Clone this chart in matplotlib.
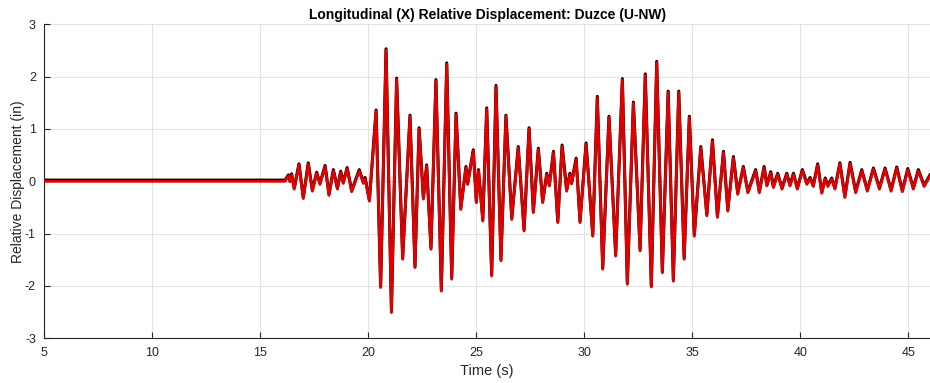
import numpy as np
import matplotlib
matplotlib.use("Agg")
import matplotlib.pyplot as plt
import matplotlib.transforms as mtransforms

plt.rcParams['font.family'] = ['Liberation Sans', 'DejaVu Sans']
plt.rcParams['axes.unicode_minus'] = False

# peaks / troughs (time in s, displacement in in)
time_s = [5.0, 16.15, 16.3, 16.37, 16.45, 16.57, 16.79, 16.99, 17.22, 17.41,
          17.61, 17.76, 18.0, 18.18, 18.38, 18.57, 18.72, 18.84, 19.02, 19.23,
          19.58, 19.77, 19.85, 20.05, 20.36, 20.57, 20.82, 21.07, 21.31, 21.59,
          21.93, 22.16, 22.35, 22.55, 22.7, 22.9, 23.13, 23.38, 23.63, 23.86,
          24.06, 24.28, 24.52, 24.6, 24.86, 25.0, 25.1, 25.3, 25.48, 25.71,
          25.91, 26.14, 26.37, 26.64, 26.94, 27.21, 27.44, 27.64, 27.87, 28.07,
          28.26, 28.38, 28.57, 28.77, 28.97, 29.18, 29.33, 29.41, 29.62, 29.8,
          30.08, 30.39, 30.6, 30.85, 31.14, 31.45, 31.76, 31.99, 32.27, 32.58,
          32.82, 33.1, 33.35, 33.61, 33.88, 34.12, 34.37, 34.62, 34.86, 35.09,
          35.39, 35.67, 35.93, 36.16, 36.44, 36.64, 36.9, 37.1, 37.36, 37.57,
          37.93, 38.1, 38.32, 38.45, 38.63, 38.75, 38.95, 39.15, 39.37, 39.52,
          39.68, 39.86, 40.09, 40.3, 40.45, 40.6, 40.8, 40.99, 41.15, 41.27,
          41.45, 41.6, 41.83, 42.06, 42.3, 42.56, 42.84, 43.1, 43.38, 43.66,
          43.92, 44.2, 44.46, 44.72, 44.97, 45.23, 45.46, 45.73, 46.0]
disp_in = [0.0, 0.0, 0.1, -0.01, 0.12, -0.15, 0.31, -0.33, 0.33, -0.19,
           0.15, -0.06, 0.28, -0.27, 0.2, -0.15, 0.17, -0.04, 0.24, -0.2,
           0.2, -0.04, 0.05, -0.38, 1.34, -2.03, 2.51, -2.51, 1.95, -1.49,
           1.24, -1.65, 1.0, -0.34, 0.29, -1.3, 1.92, -2.1, 2.24, -1.87,
           1.28, -0.54, 0.26, -0.06, 0.58, -0.41, 0.2, -0.76, 1.38, -1.81,
           1.81, -1.52, 1.24, -0.73, 0.64, -0.95, 1.0, -0.6, 0.61, -0.41,
           0.13, -0.09, 0.55, -0.79, 0.67, -0.19, 0.13, -0.05, 0.42, -0.79,
           0.71, -1.05, 1.6, -1.68, 1.22, -1.43, 1.94, -1.97, 1.49, -1.33,
           2.03, -2.02, 2.27, -1.75, 1.7, -1.91, 1.7, -1.49, 1.22, -1.05,
           0.64, -0.66, 0.77, -0.69, 0.55, -0.57, 0.45, -0.25, 0.26, -0.22,
           0.2, -0.22, 0.26, -0.09, 0.16, -0.12, 0.13, -0.15, 0.13, -0.09,
           0.13, -0.15, 0.2, -0.06, 0.05, -0.1, 0.31, -0.23, 0.04, -0.1,
           0.04, -0.15, 0.33, -0.31, 0.34, -0.22, 0.2, -0.19, 0.23, -0.15,
           0.23, -0.19, 0.25, -0.2, 0.22, -0.15, 0.2, -0.1, 0.1]

x_ticks = [5, 10, 15, 20, 25, 30, 35, 40, 45]
y_ticks = [-3, -2, -1, 0, 1, 2, 3]

fig = plt.figure(figsize=(9.3, 3.83), dpi=100)
ax = fig.add_axes([0.0476, 0.1167, 0.9524, 0.8198])

# black traces sit just above the red ones
shift = mtransforms.offset_copy(ax.transData, fig=fig, x=0, y=1.2, units='dots')
ax.plot(time_s, disp_in, color='black', lw=2.2, transform=shift, zorder=2)
ax.plot(time_s, disp_in, color='#e00000', lw=2.0, zorder=3)

ax.set_xlim(5, 46)
ax.set_ylim(-3, 3)
ax.set_xticks(x_ticks)
ax.set_yticks(y_ticks)
ax.grid(True, color='#e3e3e3', lw=0.8)
ax.set_axisbelow(True)
for s in ['top', 'right']:
    ax.spines[s].set_visible(False)
for s in ['left', 'bottom']:
    ax.spines[s].set_color('#262626')
    ax.spines[s].set_linewidth(0.8)
ax.tick_params(direction='in', length=4, width=0.8, colors='#262626',
               labelsize=9, pad=6)

ax.set_title('Longitudinal (X) Relative Displacement: Duzce (U-NW)',
             fontsize=10, fontweight='bold', pad=4)
ax.set_xlabel('Time (s)', fontsize=10.5, color='#262626', labelpad=4)
ax.set_ylabel('Relative Displacement (in)', fontsize=10, color='#262626', labelpad=0)

fig.savefig('out.png', dpi=100)
